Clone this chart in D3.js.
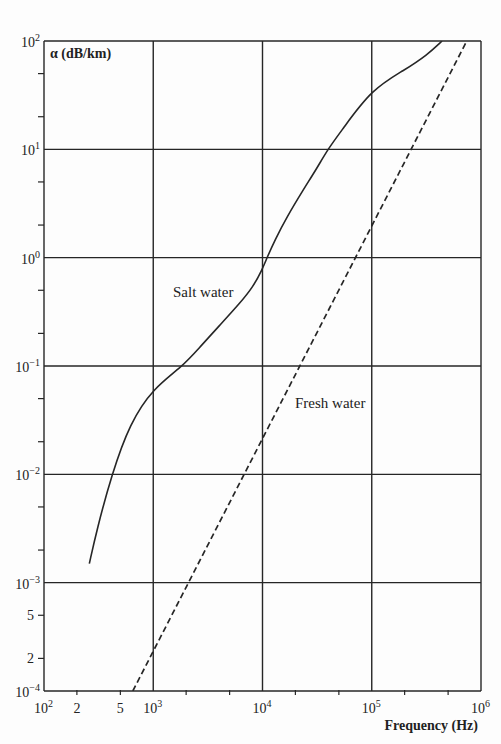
<!DOCTYPE html>
<html>
<head>
<meta charset="utf-8">
<script src="https://cdn.jsdelivr.net/npm/d3@7"></script>
<style>
  body { margin: 0; background: #fff; }
  text { font-family: "Liberation Serif", "DejaVu Serif", serif; fill: #222; }
</style>
</head>
<body>
<script>
// data
const xExponents = [2, 3, 4, 5, 6];
const yExponents = [-4, -3, -2, -1, 0, 1, 2];
const xMinorLabels = [[200, "2"], [500, "5"]];
const yMinorLabels = [[2e-4, "2"], [5e-4, "5"]];

const saltFreq  = [260, 305, 417, 611, 1000, 1833, 2680, 4085, 6220, 8180, 9890, 11000, 13000, 16700, 23500, 31600, 39800, 53500, 100000, 200000, 320000, 440000];
const saltAlpha = [0.0015, 0.0031, 0.01, 0.0297, 0.0625, 0.098, 0.15, 0.239, 0.381, 0.536, 0.769, 1.0, 1.46, 2.37, 4.2, 6.73, 10.1, 15.1, 36, 54, 74, 100];

const freshFreq  = [650, 741000];
const freshAlpha = [1e-4, 1e2];

const width = 501, height = 744,
      margin = {left: 44, top: 41, right: 20, bottom: 53};

const svg = d3.select("body").append("svg")
              .attr("width", width)
              .attr("height", height);

svg.append("rect").attr("width", width).attr("height", height).attr("fill", "#fdfdfd");

const x = d3.scaleLog().domain([1e2, 1e6]).range([margin.left, width - margin.right]),
      y = d3.scaleLog().domain([1e-4, 1e2]).range([height - margin.bottom, margin.top]);

const ink = "#262626";

// gridlines at every decade
svg.append("g").selectAll("line")
   .data(xExponents)
   .join("line")
   .attr("x1", d => x(Math.pow(10, d))).attr("x2", d => x(Math.pow(10, d)))
   .attr("y1", y(1e-4)).attr("y2", y(1e2))
   .attr("stroke", ink).attr("stroke-width", 1.4);

svg.append("g").selectAll("line")
   .data(yExponents)
   .join("line")
   .attr("y1", d => y(Math.pow(10, d))).attr("y2", d => y(Math.pow(10, d)))
   .attr("x1", x(1e2)).attr("x2", x(1e6))
   .attr("stroke", ink).attr("stroke-width", 1.4);

// minor ticks at 2 and 5 in each decade
const minorX = [], minorY = [];
xExponents.slice(0, -1).forEach(e => { minorX.push(2 * Math.pow(10, e), 5 * Math.pow(10, e)); });
yExponents.slice(0, -1).forEach(e => { minorY.push(2 * Math.pow(10, e), 5 * Math.pow(10, e)); });

svg.append("g").selectAll("line")
   .data(minorX)
   .join("line")
   .attr("x1", d => x(d)).attr("x2", d => x(d))
   .attr("y1", y(1e-4) - 1).attr("y2", y(1e-4) + 4)
   .attr("stroke", ink).attr("stroke-width", 1.2);

svg.append("g").selectAll("line")
   .data(minorY)
   .join("line")
   .attr("y1", d => y(d)).attr("y2", d => y(d))
   .attr("x1", x(1e2) - 6).attr("x2", x(1e2))
   .attr("stroke", ink).attr("stroke-width", 1.2);

// tick labels with superscript exponents
const powLabel = (sel, e) => {
  sel.append("tspan").text("10");
  sel.append("tspan").attr("dy", -6).attr("font-size", 10).text(e < 0 ? "\u2212" + (-e) : e);
};

svg.append("g").selectAll("text")
   .data(xExponents)
   .join("text")
   .attr("x", d => x(Math.pow(10, d)) - 10)
   .attr("y", y(1e-4) + 22)
   .attr("font-size", 14)
   .each(function(d) { powLabel(d3.select(this), d); });

svg.append("g").selectAll("text")
   .data(xMinorLabels)
   .join("text")
   .attr("x", d => x(d[0]))
   .attr("y", y(1e-4) + 22)
   .attr("text-anchor", "middle")
   .attr("font-size", 14)
   .text(d => d[1]);

svg.append("g").selectAll("text")
   .data(yExponents)
   .join("text")
   .attr("x", x(1e2) - 4)
   .attr("y", d => y(Math.pow(10, d)) + 6)
   .attr("text-anchor", "end")
   .attr("font-size", 14)
   .each(function(d) { powLabel(d3.select(this), d); });

svg.append("g").selectAll("text")
   .data(yMinorLabels)
   .join("text")
   .attr("x", x(1e2) - 10)
   .attr("y", d => y(d[0]) + 5)
   .attr("text-anchor", "end")
   .attr("font-size", 14)
   .text(d => d[1]);

// curves
svg.append("clipPath").attr("id", "plot")
   .append("rect")
   .attr("x", x(1e2)).attr("y", y(1e2))
   .attr("width", x(1e6) - x(1e2)).attr("height", y(1e-4) - y(1e2));

const line = d3.line()
               .x(d => x(d[0]))
               .y(d => y(d[1]))
               .curve(d3.curveBasis);

svg.append("path")
   .datum(d3.zip(saltFreq, saltAlpha))
   .attr("clip-path", "url(#plot)")
   .attr("d", line)
   .attr("fill", "none")
   .attr("stroke", ink)
   .attr("stroke-width", 1.6);

svg.append("path")
   .datum(d3.zip(freshFreq, freshAlpha))
   .attr("clip-path", "url(#plot)")
   .attr("d", line)
   .attr("fill", "none")
   .attr("stroke", ink)
   .attr("stroke-width", 1.7)
   .attr("stroke-dasharray", "6,3.5");

// labels
svg.append("text").attr("x", x(1e2) + 6).attr("y", y(1e2) + 17)
   .attr("font-size", 14).attr("font-weight", "bold").text("\u03b1 (dB/km)");

svg.append("text").attr("x", 173).attr("y", 297)
   .attr("font-size", 15).text("Salt water");

svg.append("text").attr("x", 295).attr("y", 408)
   .attr("font-size", 15).text("Fresh water");

svg.append("text").attr("x", x(1e6) - 3).attr("y", y(1e-4) + 39)
   .attr("text-anchor", "end")
   .attr("font-size", 14).attr("font-weight", "bold").text("Frequency (Hz)");
</script>
</body>
</html>
